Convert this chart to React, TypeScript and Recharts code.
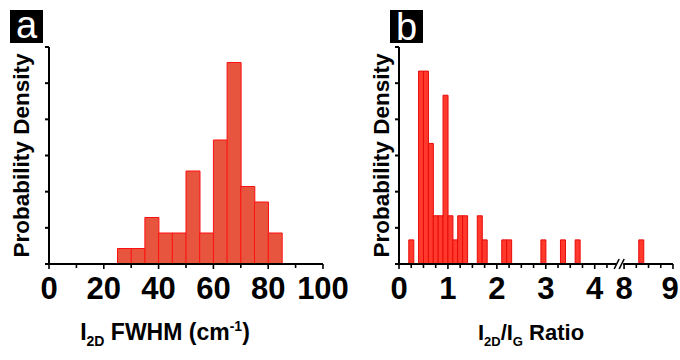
import React from 'react';
import { BarChart, Bar, XAxis, YAxis } from 'recharts';

// ---------- Panel a: I2D FWHM histogram ----------
const fwhmBinStarts = [25, 30, 35, 40, 45, 50, 55, 60, 65, 70, 75, 80];
const fwhmCounts = [1, 1, 3, 2, 2, 6, 2, 8, 13, 5, 4, 2];
const fwhmBinWidth = 5;
const fwhmRange = [0, 100];
const fwhmTicks = [0, 10, 20, 30, 40, 50, 60, 70, 80, 90, 100];
const fwhmMajorTicks = [0, 20, 40, 60, 80, 100];
const fwhmYMax = 14;
const fwhmYTicks = [0, 14 / 6, 28 / 6, 42 / 6, 56 / 6, 70 / 6, 14];

// ---------- Panel b: I2D/IG ratio histogram (broken axis 4.5 // 8) ----------
const ratioBinStarts = [0.2, 0.4, 0.5, 0.6, 0.7, 0.8, 0.9, 1.0, 1.1, 1.2, 1.3, 1.6, 1.7, 2.1, 2.2, 2.9, 3.3, 3.6, 8.3];
const ratioCounts = [1, 8, 8, 5, 2, 2, 7, 2, 1, 2, 2, 2, 1, 1, 1, 1, 1, 1, 1];
const ratioBinWidth = 0.1;
const ratioBreakAt = 4.5; // left segment ends
const ratioResumeAt = 8; // right segment starts
const ratioResumeAxisPos = 4.6; // where 8 sits on the continuous axis
const ratioMax = 9;
const ratioTicks = [0, 0.25, 0.5, 0.75, 1, 1.25, 1.5, 1.75, 2, 2.25, 2.5, 2.75, 3, 3.25, 3.5, 3.75, 4, 4.25, 8, 8.25, 8.5, 8.75, 9];
const ratioMajorTicks = [0, 1, 2, 3, 4, 8, 9];
const ratioYMax = 9;
const ratioYTicks = [0, 1.5, 3, 4.5, 6, 7.5, 9];

const FONT = "'Liberation Sans', Arial, Helvetica, sans-serif";
const shift = ratioResumeAt - ratioResumeAxisPos;
const toAxis = (v: number) => (v <= ratioBreakAt ? v : v - shift);
const fromAxis = (a: number) => (a <= ratioBreakAt + 1e-9 ? a : a + shift);
const r3 = (v: number) => Math.round(v * 1000) / 1000;

const fwhmData = (() => {
  const n = Math.round((fwhmRange[1] - fwhmRange[0]) / fwhmBinWidth);
  const rows: { mid: number; count: number }[] = [];
  for (let i = 0; i < n; i++) {
    const start = fwhmRange[0] + i * fwhmBinWidth;
    const idx = fwhmBinStarts.indexOf(start);
    rows.push({ mid: start + fwhmBinWidth / 2, count: idx >= 0 ? fwhmCounts[idx] : 0 });
  }
  return rows;
})();

const ratioAxisMax = r3(toAxis(ratioMax));
const ratioData = (() => {
  const n = Math.round(ratioAxisMax / ratioBinWidth);
  const rows: { mid: number; count: number }[] = [];
  for (let i = 0; i < n; i++) {
    const a = r3(i * ratioBinWidth);
    let real: number | null = null;
    if (a < ratioBreakAt - 1e-9) real = a;
    else if (a >= ratioResumeAxisPos - 1e-9) real = r3(a + shift);
    let count = 0;
    if (real !== null) {
      const idx = ratioBinStarts.findIndex((s) => Math.abs(s - real!) < 1e-6);
      if (idx >= 0) count = ratioCounts[idx];
    }
    rows.push({ mid: r3(a + ratioBinWidth / 2), count });
  }
  return rows;
})();
const ratioAxisTicks = [...ratioTicks.map((t) => r3(toAxis(t))), ratioBreakAt].sort((p, q) => p - q);

const FwhmTick = (props: any) => {
  const { x, y, payload } = props;
  const v = payload.value;
  const major = fwhmMajorTicks.includes(v);
  return (
    <g>
      <line x1={x} x2={x} y1={y} y2={y + (major ? 5 : 4)} stroke="#000" strokeWidth={1.6} />
      {major && (
        <text x={x} y={y + 13} dy="0.71em" textAnchor="middle" fontFamily={FONT} fontWeight="bold" fontSize={31} fill="#000">
          {v}
        </text>
      )}
    </g>
  );
};

const RatioTick = (props: any) => {
  const { x, y, payload } = props;
  const a = payload.value;
  if (Math.abs(a - ratioBreakAt) < 1e-6) {
    return (
      <g>
        <rect x={x - 3} y={y - 3} width={7} height={6} fill="#fff" />
        <line x1={x - 5} y1={y + 5} x2={x} y2={y - 5} stroke="#000" strokeWidth={1.6} />
        <line x1={x} y1={y + 5} x2={x + 5} y2={y - 5} stroke="#000" strokeWidth={1.6} />
      </g>
    );
  }
  const real = r3(fromAxis(a));
  const major = ratioMajorTicks.includes(real);
  const isLast = real === ratioMax;
  return (
    <g>
      <line x1={x} x2={x} y1={y} y2={y + (major ? 5 : 4)} stroke="#000" strokeWidth={1.6} />
      {major && (
        <text x={isLast ? x - 3 : x} y={y + 13} dy="0.71em" textAnchor="middle" fontFamily={FONT} fontWeight="bold" fontSize={31} fill="#000">
          {real}
        </text>
      )}
    </g>
  );
};

const EmptyTick = () => <g />;

export default function App() {
  return (
    <div style={{ position: 'absolute', left: 0, top: 0, width: 680, height: 360, background: '#fff', overflow: 'hidden' }}>
      <div style={{ position: 'absolute', left: 0, top: 0 }}>
        <BarChart width={360} height={360} data={fwhmData} margin={{ top: 47, right: 37, bottom: 0, left: 0 }} barCategoryGap={0} barGap={0}>
          <XAxis
            dataKey="mid"
            type="number"
            domain={fwhmRange}
            ticks={fwhmTicks}
            interval={0}
            allowDataOverflow
            height={96}
            tickSize={0}
            tickMargin={0}
            tickLine={false}
            axisLine={{ stroke: '#000', strokeWidth: 2 }}
            tick={<FwhmTick />}
          />
          <YAxis
            type="number"
            domain={[0, fwhmYMax]}
            ticks={fwhmYTicks}
            interval={0}
            allowDataOverflow
            width={49}
            tickSize={4}
            tickLine={{ stroke: '#000', strokeWidth: 2 }}
            axisLine={{ stroke: '#000', strokeWidth: 2 }}
            tick={<EmptyTick />}
          />
          <Bar dataKey="count" fill="#E8553E" stroke="#FF1010" strokeWidth={1} isAnimationActive={false} />
        </BarChart>
      </div>
      <div style={{ position: 'absolute', left: 340, top: 0 }}>
        <BarChart width={340} height={360} data={ratioData} margin={{ top: 47, right: 7, bottom: 0, left: 0 }} barCategoryGap={0} barGap={0}>
          <XAxis
            dataKey="mid"
            type="number"
            domain={[0, ratioAxisMax]}
            ticks={ratioAxisTicks}
            interval={0}
            allowDataOverflow
            height={96}
            tickSize={0}
            tickMargin={0}
            tickLine={false}
            axisLine={{ stroke: '#000', strokeWidth: 2 }}
            tick={<RatioTick />}
          />
          <YAxis
            type="number"
            domain={[0, ratioYMax]}
            ticks={ratioYTicks}
            interval={0}
            allowDataOverflow
            width={59}
            tickSize={4}
            tickLine={{ stroke: '#000', strokeWidth: 2 }}
            axisLine={{ stroke: '#000', strokeWidth: 2 }}
            tick={<EmptyTick />}
          />
          <Bar dataKey="count" fill="#FF3A2C" stroke="#E80A0A" strokeWidth={1} isAnimationActive={false} />
        </BarChart>
      </div>
      <svg width={680} height={360} style={{ position: 'absolute', left: 0, top: 0, pointerEvents: 'none' }}>
        <rect x={10} y={10} width={33} height={33} fill="#000" />
        <text x={26.5} y={38} textAnchor="middle" fontFamily={FONT} fontSize={38} fill="#fff">a</text>
        <rect x={390} y={10} width={33} height={33} fill="#000" />
        <text x={406.5} y={40} textAnchor="middle" fontFamily={FONT} fontSize={38} fill="#fff">b</text>

        <text transform="translate(29,155.5) rotate(-90)" textAnchor="middle" fontFamily={FONT} fontWeight="bold" fontSize={22.5} fill="#000">
          Probability Density
        </text>
        <text transform="translate(389,155.5) rotate(-90)" textAnchor="middle" fontFamily={FONT} fontWeight="bold" fontSize={22.5} fill="#000">
          Probability Density
        </text>

        <text x={165} y={340} textAnchor="middle" fontFamily={FONT} fontWeight="bold" fontSize={23} fill="#000">
          <tspan>I</tspan>
          <tspan fontSize={14} dy={6}>2D</tspan>
          <tspan dy={-6}> FWHM (cm</tspan>
          <tspan fontSize={14} dy={-9}>-1</tspan>
          <tspan dy={9}>)</tspan>
        </text>
        <text x={531} y={340} textAnchor="middle" fontFamily={FONT} fontWeight="bold" fontSize={22} fill="#000">
          <tspan>I</tspan>
          <tspan fontSize={13} dy={6}>2D</tspan>
          <tspan dy={-6}>/I</tspan>
          <tspan fontSize={13} dy={6}>G</tspan>
          <tspan dy={-6}> Ratio</tspan>
        </text>
      </svg>
    </div>
  );
}
